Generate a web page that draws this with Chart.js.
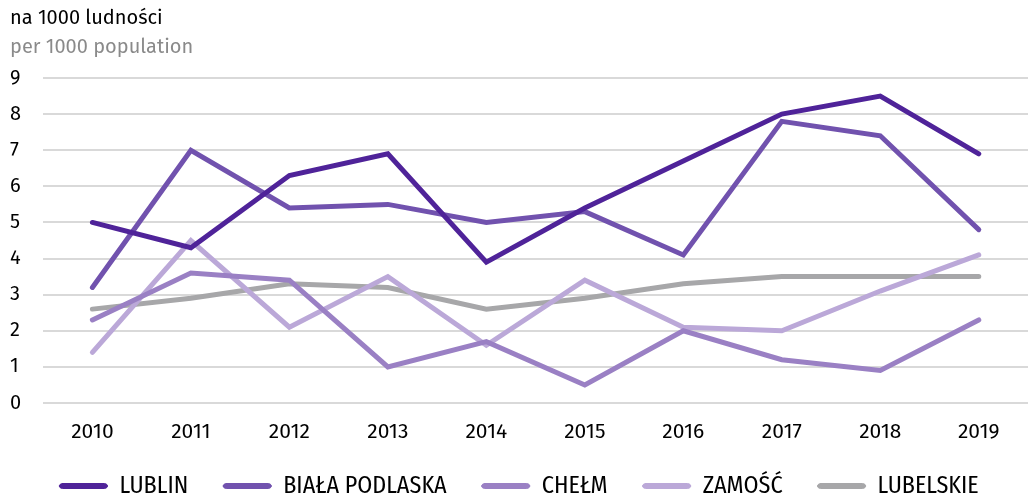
<!DOCTYPE html>
<html>
<head>
<meta charset="utf-8">
<script src="https://cdn.jsdelivr.net/npm/chart.js@4/dist/chart.umd.min.js"></script>
<style>
  body { margin: 0; background: #fff; }
  #wrap { width: 1028px; height: 497px; }
</style>
</head>
<body>
<div id="wrap"><canvas id="chart" width="1028" height="497"></canvas></div>
<script>
// Chart data
const years = ['2010', '2011', '2012', '2013', '2014', '2015', '2016', '2017', '2018', '2019'];
const lublin = [5.0, 4.3, 6.3, 6.9, 3.9, 5.4, 6.7, 8.0, 8.5, 6.9];
const bialaPodlaska = [3.2, 7.0, 5.4, 5.5, 5.0, 5.3, 4.1, 7.8, 7.4, 4.8];
const chelm = [2.3, 3.6, 3.4, 1.0, 1.7, 0.5, 2.0, 1.2, 0.9, 2.3];
const zamosc = [1.4, 4.5, 2.1, 3.5, 1.6, 3.4, 2.1, 2.0, 3.1, 4.1];
const lubelskie = [2.6, 2.9, 3.3, 3.2, 2.6, 2.9, 3.3, 3.5, 3.5, 3.5];

const tickFont = "'Fira Sans', 'Open Sans', 'Noto Sans', sans-serif";
const legendFont = "'Fira Sans Condensed', 'Liberation Sans Narrow', 'DejaVu Sans Condensed', 'Roboto', sans-serif";

function series(label, data, color) {
    return {
        label: label,
        data: data,
        borderColor: color,
        backgroundColor: color,
        borderWidth: 5,
        borderCapStyle: 'round',
        borderJoinStyle: 'miter',
        pointRadius: 0,
        tension: 0
    };
}

const ctx = document.getElementById('chart');
const myChart = new Chart(ctx, {
    type: 'line',
    data: {
        labels: years,
        datasets: [
            series('LUBLIN', lublin, '#4f2399'),
            series('BIAŁA PODLASKA', bialaPodlaska, '#7152ae'),
            series('CHEŁM', chelm, '#9a80c4'),
            series('ZAMOŚĆ', zamosc, '#bba8d8'),
            series('LUBELSKIE', lubelskie, '#a7a7a9')
        ]
    },
    options: {
        responsive: false,
        animation: false,
        layout: { padding: { left: 10, right: 0, top: 4, bottom: -11 } },
        plugins: {
            title: {
                display: true,
                text: 'na 1000 ludności',
                align: 'start',
                color: '#000',
                font: { family: tickFont, size: 20, weight: 'normal' },
                padding: { top: 2, bottom: 3 }
            },
            subtitle: {
                display: true,
                text: 'per 1000 population',
                align: 'start',
                color: '#8a8a8a',
                font: { family: tickFont, size: 20, weight: 'normal' },
                padding: { top: 2, bottom: 19 }
            },
            legend: {
                position: 'bottom',
                labels: {
                    boxWidth: 48,
                    boxHeight: 5,
                    padding: 35,
                    useBorderRadius: true,
                    borderRadius: 3,
                    color: '#000',
                    font: { family: legendFont, size: 24 },
                    generateLabels: function(chart) {
                        const items = Chart.defaults.plugins.legend.labels.generateLabels(chart);
                        return items.map(function(item) {
                            item.lineWidth = 1;
                            return item;
                        });
                    }
                }
            },
            tooltip: { enabled: false }
        },
        scales: {
            x: {
                offset: true,
                grid: { display: false },
                border: { display: false },
                ticks: { color: '#000', font: { family: tickFont, size: 21 }, padding: 9 },
                afterFit: function(scale) { scale.height = 36; }
            },
            y: {
                min: 0,
                max: 9,
                grid: { color: '#d9d9d9', lineWidth: 2, drawTicks: false },
                border: { display: false },
                ticks: { stepSize: 1, color: '#000', crossAlign: 'far', font: { family: tickFont, size: 20 }, padding: 11 }
            }
        }
    }
});
</script>
</body>
</html>
